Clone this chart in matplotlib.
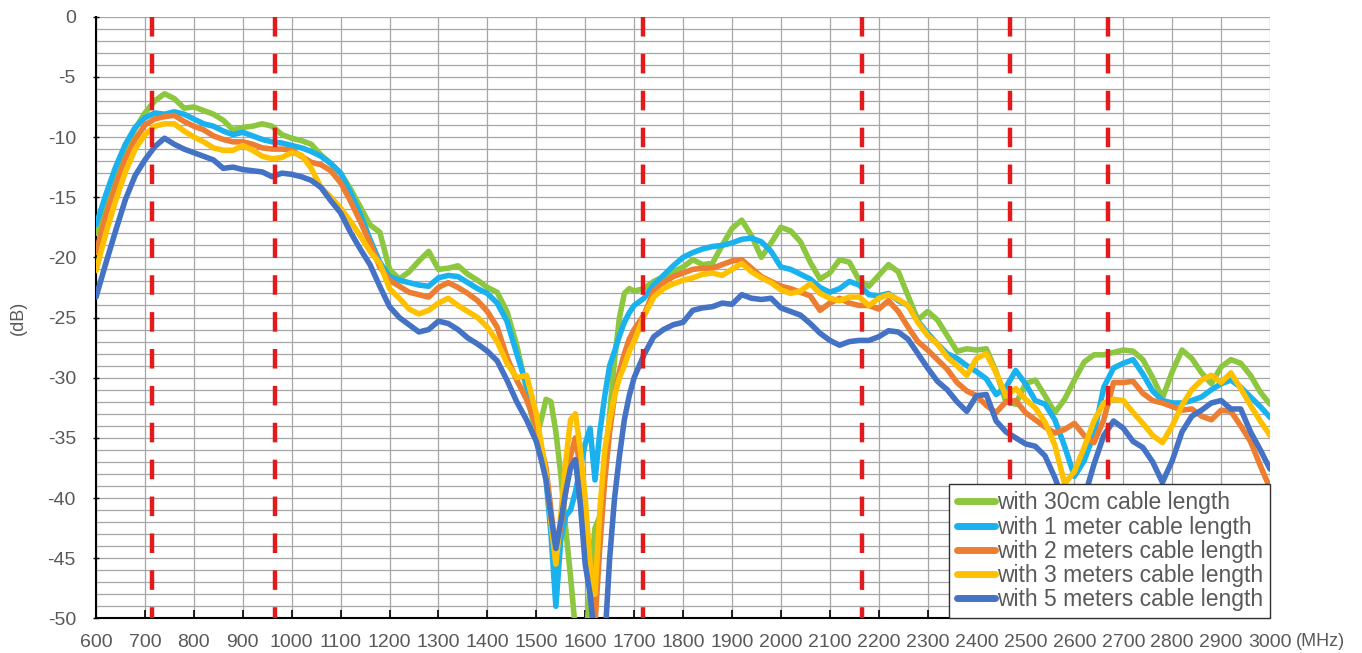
import numpy as np
import matplotlib.pyplot as plt
from matplotlib.ticker import MultipleLocator, FuncFormatter

plt.rcParams['font.family'] = ['Liberation Sans', 'DejaVu Sans']
plt.rcParams['axes.unicode_minus'] = False

# sampling grid (MHz): 20 MHz steps, 10 MHz through the notch
freq = list(range(600, 1501, 20)) + list(range(1510, 1701, 10)) + list(range(1720, 3001, 20))

cable_30cm = [
    -18.0, -15.5, -13.0, -11.0, -9.3, -8.0, -7.0, -6.4, -6.8, -7.6,
    -7.5, -7.8, -8.1, -8.6, -9.4, -9.2, -9.1, -8.9, -9.1, -9.8,
    -10.1, -10.3, -10.6, -11.5, -12.2, -13.0, -14.3, -15.8, -17.3, -17.9,
    -21.0, -21.8, -21.2, -20.3, -19.5, -21.0, -20.9, -20.7, -21.4, -21.9,
    -22.5, -22.9, -24.5, -27.3, -31.0, -35.0,
    -33.5, -31.8, -32.0, -34.5, -38.0, -42.5, -46.5, -51.0, -53.0, -53.0,
    -47.0, -42.5, -41.5, -38.0, -33.0, -28.5, -25.0, -23.0, -22.6, -22.8,
    -22.6, -22.0, -21.6, -21.2, -20.8, -20.2, -20.6, -20.5, -19.0, -17.6,
    -16.9, -18.2, -20.0, -18.8, -17.5, -17.8, -18.7, -20.4, -21.8, -21.3,
    -20.2, -20.4, -21.9, -22.4, -21.5, -20.6, -21.2, -23.2, -25.2, -24.5,
    -25.2, -26.5, -27.8, -27.6, -27.7, -27.6, -29.5, -32.0, -32.2, -30.5,
    -30.2, -31.5, -32.9, -31.8, -30.2, -28.7, -28.1, -28.1, -27.9, -27.7,
    -27.8, -28.5, -30.0, -31.7, -29.5, -27.7, -28.4, -29.6, -30.5, -29.1,
    -28.5, -28.8, -29.8, -31.2, -32.2,
]

cable_1m = [
    -17.3, -14.8, -12.5, -10.6, -9.2, -8.4, -8.0, -8.1, -7.9, -8.1,
    -8.5, -8.9, -9.1, -9.5, -9.8, -9.6, -9.9, -10.2, -10.4, -10.5,
    -10.7, -10.9, -11.2, -11.6, -12.2, -13.0, -14.6, -16.4, -18.5, -20.4,
    -21.6, -21.9, -22.1, -22.3, -22.4, -21.7, -21.5, -21.6, -22.1, -22.6,
    -23.0, -23.8, -25.3, -28.0, -30.6, -33.5,
    -35.8, -38.5, -43.0, -49.0, -43.5, -41.5, -41.0, -39.5, -37.5, -35.5,
    -34.2, -38.5, -34.5, -31.5, -29.0, -27.8, -26.5, -25.4, -24.6, -24.0,
    -23.4, -22.3, -21.5, -20.7, -20.0, -19.6, -19.3, -19.1, -19.0, -18.8,
    -18.5, -18.4, -18.7, -19.5, -20.8, -21.0, -21.4, -21.8, -22.5, -22.9,
    -22.6, -22.0, -22.3, -23.1, -23.2, -23.0, -23.6, -24.0, -25.3, -26.3,
    -27.2, -28.0, -28.4, -29.0, -29.5, -30.1, -31.4, -30.8, -29.4, -30.5,
    -31.9, -32.2, -33.5, -35.7, -38.2, -36.9, -34.7, -30.8, -29.2, -28.8,
    -28.5, -29.7, -31.1, -31.9, -32.1, -32.1, -31.9, -31.6, -31.0, -30.5,
    -30.2, -30.8, -31.6, -32.4, -33.3,
]

cable_2m = [
    -19.6, -16.5, -14.0, -11.8, -10.2, -9.0, -8.5, -8.3, -8.2, -8.7,
    -9.1, -9.4, -9.9, -10.2, -10.4, -10.4, -10.6, -10.9, -11.0, -11.0,
    -11.1, -11.6, -12.1, -12.3, -12.8, -13.8, -15.3, -17.0, -18.8, -20.8,
    -21.9, -22.4, -22.9, -23.1, -23.3, -22.5, -22.1, -22.5, -23.0, -23.6,
    -24.5, -25.8, -28.3, -30.2, -31.8, -34.0,
    -35.8, -37.5, -41.0, -44.5, -42.5, -39.5, -36.5, -35.0, -37.5, -41.5,
    -47.0, -50.5, -44.0, -38.5, -34.5, -31.5, -29.5, -28.0, -26.8, -26.0,
    -24.8, -22.8, -22.1, -21.6, -21.3, -21.0, -20.9, -20.9, -20.6, -20.3,
    -20.2, -20.9, -21.6, -22.0, -22.4, -22.6, -22.9, -23.2, -24.4, -23.8,
    -23.4, -23.8, -24.0, -24.0, -24.3, -23.6, -24.5, -25.8, -27.0, -27.7,
    -28.5, -29.3, -30.4, -31.1, -31.5, -32.3, -32.9, -32.0, -31.9, -32.9,
    -33.5, -34.1, -34.6, -34.3, -33.8, -34.8, -35.4, -33.5, -30.4, -30.4,
    -30.3, -31.3, -31.9, -32.1, -32.4, -32.7, -32.6, -33.2, -33.5, -32.7,
    -32.8, -34.0, -35.3, -37.3, -39.2,
]

cable_3m = [
    -21.1, -18.0, -15.3, -12.9, -11.0, -9.8, -9.1, -8.9, -8.9, -9.5,
    -10.0, -10.4, -10.9, -11.1, -11.1, -10.7, -11.1, -11.6, -11.8, -11.7,
    -11.3, -11.5, -12.6, -14.2, -15.0, -15.9, -17.0, -18.2, -19.5, -20.5,
    -22.6, -23.4, -24.3, -24.7, -24.4, -23.8, -23.4, -24.0, -24.5, -25.0,
    -25.8, -27.0, -28.8, -30.0, -29.8, -33.0,
    -35.5, -38.0, -42.0, -45.5, -41.5, -37.0, -33.5, -33.0, -36.0, -40.0,
    -45.5, -48.0, -41.0, -36.0, -33.5, -31.5, -30.0, -29.0, -27.8, -27.0,
    -24.9, -23.3, -22.6, -22.2, -21.9, -21.7, -21.4, -21.3, -21.5, -21.0,
    -20.5, -21.2, -21.7, -22.1, -22.7, -23.0, -22.8, -22.2, -23.0, -23.4,
    -23.6, -23.3, -23.3, -24.0, -23.4, -23.1, -23.5, -24.0, -25.4, -26.5,
    -27.2, -28.3, -29.0, -29.8, -28.4, -28.0, -29.6, -31.5, -30.9, -31.8,
    -32.5, -33.7, -35.6, -38.8, -37.8, -35.8, -33.6, -32.1, -31.8, -31.9,
    -32.9, -33.8, -34.8, -35.4, -34.0, -32.3, -31.0, -30.2, -29.8, -30.4,
    -29.6, -30.9, -32.3, -33.6, -34.8,
]

cable_5m = [
    -23.3, -20.5, -17.8, -15.2, -13.2, -11.9, -10.8, -10.1, -10.6, -11.0,
    -11.3, -11.6, -11.9, -12.6, -12.5, -12.7, -12.8, -12.9, -13.3, -13.0,
    -13.1, -13.3, -13.6, -14.2, -15.3, -16.3, -17.9, -19.3, -20.6, -22.4,
    -24.1, -25.0, -25.6, -26.2, -26.0, -25.3, -25.5, -26.0, -26.7, -27.2,
    -27.8, -28.6, -30.2, -32.0, -33.5, -35.3,
    -36.8, -38.5, -41.5, -44.2, -42.0, -39.5, -37.5, -36.8, -40.5, -45.5,
    -48.0, -52.0, -54.0, -52.0, -45.0, -40.0, -36.5, -33.5, -31.5, -30.0,
    -28.1, -26.6, -26.0, -25.6, -25.4, -24.4, -24.2, -24.1, -23.8, -23.9,
    -23.1, -23.4, -23.5, -23.4, -24.2, -24.5, -24.8, -25.5, -26.3, -26.9,
    -27.3, -27.0, -26.9, -26.9, -26.6, -26.1, -26.2, -26.8, -28.0, -29.2,
    -30.3, -31.0, -32.0, -32.8, -31.5, -31.4, -33.6, -34.5, -35.0, -35.5,
    -35.7, -36.5, -38.3, -40.5, -41.5, -40.0, -37.2, -34.8, -33.6, -34.2,
    -35.3, -35.8, -37.0, -38.7, -36.9, -34.5, -33.2, -32.7, -32.1, -31.9,
    -32.6, -32.6, -34.5, -36.0, -37.6,
]

series = [
    ("with 30cm cable length", cable_30cm, "#8DC63F"),
    ("with 1 meter cable length", cable_1m, "#1AB2EE"),
    ("with 2 meters cable length", cable_2m, "#ED7D31"),
    ("with 3 meters cable length", cable_3m, "#FFC000"),
    ("with 5 meters cable length", cable_5m, "#4472C4"),
]

# band edges (MHz)
band_edges = [715, 965, 1718, 2166, 2468, 2668]

text_grey = "#595959"
fig = plt.figure(figsize=(13.62, 6.53), dpi=100)
ax = fig.add_axes([0.0705, 0.0531, 0.862, 0.9213])

for label, vals, col in series:
    ax.plot(freq, vals, color=col, lw=4.0, label=label,
            solid_capstyle="round", solid_joinstyle="round", zorder=3)

ax.set_xlim(600, 3000)
ax.set_ylim(-50, 0)
for f in band_edges:
    ax.plot([f, f], [ax.get_ylim()[1], ax.get_ylim()[0]], color="#E31A1C",
            lw=3.2, ls=(0, (4.4, 3.9)), zorder=4)

ax.xaxis.set_major_locator(MultipleLocator(100))
ax.yaxis.set_major_locator(MultipleLocator(5))
ax.yaxis.set_minor_locator(MultipleLocator(1))
ax.yaxis.set_major_formatter(FuncFormatter(lambda v, p: "%d" % v))
ax.grid(True, which="both", color="#A6A6A6", lw=0.9, zorder=0)
ax.set_axisbelow(True)

for s in ("top", "right"):
    ax.spines[s].set_visible(False)
for s in ("left", "bottom"):
    ax.spines[s].set_color("black")
    ax.spines[s].set_linewidth(1.5)

ax.tick_params(axis="x", direction="in", length=6, width=1.2, pad=11,
               labelsize=14, labelcolor=text_grey, color="black")
ax.tick_params(axis="y", which="major", direction="inout", length=5, width=1.0,
               pad=12, labelsize=14, labelcolor=text_grey, color="black")
ax.tick_params(axis="y", which="minor", length=0)

fig.text(1296 / 1362, 0.0176, "(MHz)", ha="left", va="center",
         fontsize=13, color=text_grey)
fig.text(18 / 1362, 1 - 318 / 653, "(dB)", ha="center", va="center",
         rotation=90, fontsize=13, color=text_grey)

leg = ax.legend(loc="lower right", bbox_to_anchor=(1.0, 0.0), borderaxespad=0,
                fontsize=16.5, handlelength=1.7, handletextpad=0.05,
                labelspacing=0.05, borderpad=0.32, fancybox=False,
                framealpha=1.0, edgecolor="#303030", labelcolor=text_grey)
leg.get_frame().set_linewidth(1.0)
for h in leg.get_lines():
    h.set_linewidth(5)
    h.set_solid_capstyle("round")

fig.savefig("out.png", dpi=100)
